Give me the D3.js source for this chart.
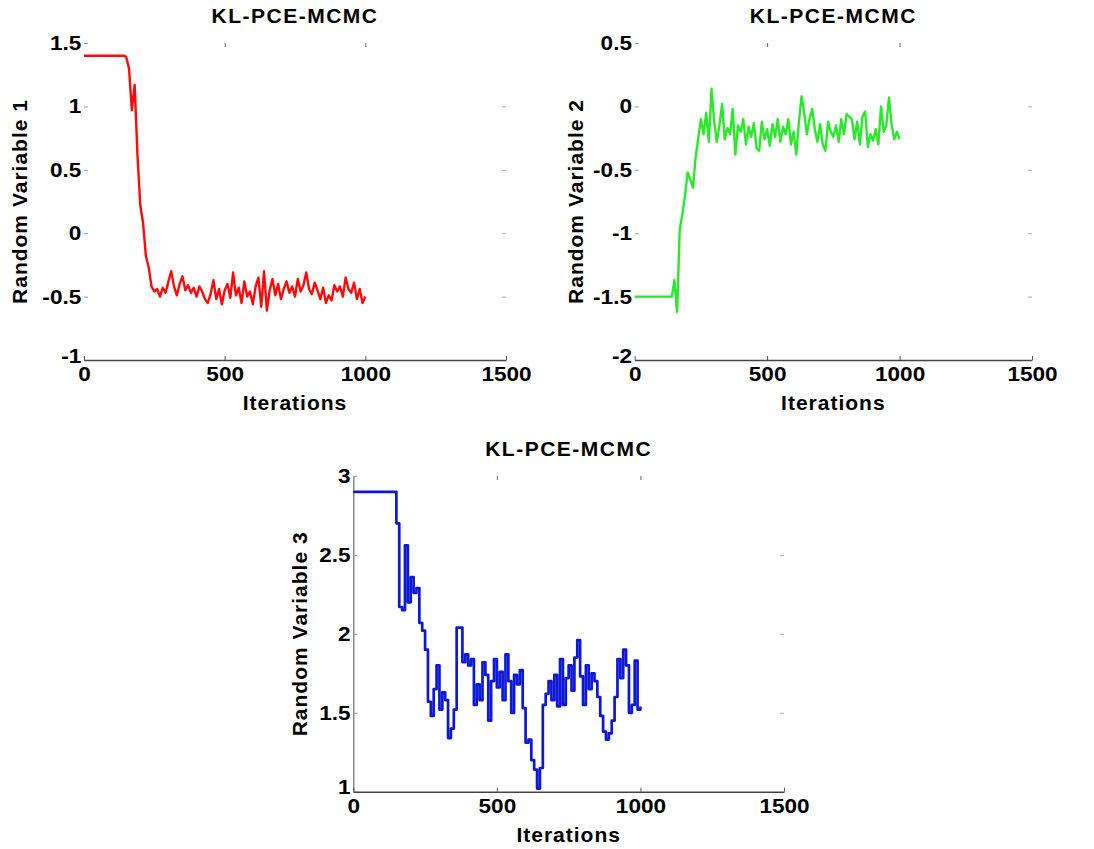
<!DOCTYPE html>
<html>
<head>
<script src="https://cdnjs.cloudflare.com/ajax/libs/d3/7.8.5/d3.min.js"></script>
<style>
    body { margin: 0; background: #fff; }
    svg text { font-family: "Liberation Sans", Arial, sans-serif; font-weight: bold; fill: #000; }
</style>
</head>
<body>
<div id="chart"></div>
<script>
    // iteration index for every sample
    const iterations = d3.range(0, 1001, 10)

    const rv1 = [1.4, 1.4, 1.4, 1.4, 1.4, 1.4, 1.4, 1.4, 1.4, 1.4, 1.4, 1.4, 1.4, 1.4, 1.4,
        1.39, 1.30, 0.97, 1.17, 0.62, 0.22, 0.08, -0.18, -0.27, -0.42, -0.46, -0.44, -0.50, -0.43, -0.47,
        -0.38, -0.30, -0.42, -0.49, -0.40, -0.34, -0.45, -0.41, -0.47, -0.43, -0.50, -0.42, -0.46, -0.52,
        -0.55, -0.48, -0.37, -0.52, -0.44, -0.56, -0.45, -0.40, -0.51, -0.31, -0.49, -0.43, -0.55, -0.38,
        -0.50, -0.46, -0.56, -0.42, -0.35, -0.58, -0.30, -0.61, -0.45, -0.36, -0.49, -0.40, -0.52, -0.44,
        -0.38, -0.47, -0.42, -0.50, -0.36, -0.46, -0.41, -0.31, -0.44, -0.48, -0.39, -0.45, -0.52, -0.43,
        -0.55, -0.49, -0.53, -0.41, -0.46, -0.42, -0.50, -0.35, -0.44, -0.47, -0.39, -0.52, -0.44, -0.55, -0.50]

    const rv2 = [-1.5, -1.5, -1.5, -1.5, -1.5, -1.5, -1.5, -1.5, -1.5, -1.5, -1.5, -1.5, -1.5, -1.5, -1.5,
        -1.37, -1.62, -0.97, -0.85, -0.70, -0.52, -0.58, -0.64, -0.40, -0.25, -0.10, -0.22, -0.05, -0.28, 0.14,
        -0.12, -0.28, -0.15, 0.02, -0.26, -0.17, -0.22, -0.02, -0.38, -0.15, -0.20, -0.10, -0.30, -0.16,
        -0.24, -0.13, -0.33, -0.35, -0.12, -0.26, -0.18, -0.31, -0.14, -0.24, -0.10, -0.28, -0.16, -0.22,
        -0.10, -0.30, -0.20, -0.38, -0.12, 0.08, -0.05, -0.22, -0.10, -0.02, -0.18, -0.28, -0.14, -0.30,
        -0.35, -0.12, -0.20, -0.24, -0.15, -0.28, -0.10, -0.22, -0.06, -0.08, -0.10, -0.26, -0.12, -0.30,
        -0.08, -0.04, -0.32, -0.22, -0.27, -0.18, -0.30, 0.00, -0.20, -0.15, 0.07, -0.14, -0.26, -0.20, -0.26]

    const rv3 = [2.9, 2.9, 2.9, 2.9, 2.9, 2.9, 2.9, 2.9, 2.9, 2.9, 2.9, 2.9, 2.9, 2.9, 2.9,
        2.70, 2.17, 2.15, 2.56, 2.20, 2.36, 2.26, 2.29, 2.07, 2.02, 1.90, 1.57, 1.48, 1.65, 1.80,
        1.52, 1.63, 1.58, 1.34, 1.40, 1.52, 2.04, 2.04, 1.82, 1.87, 1.80, 1.84, 1.55, 1.68,
        1.58, 1.82, 1.74, 1.45, 1.70, 1.84, 1.66, 1.76, 1.58, 1.87, 1.70, 1.50, 1.74, 1.68,
        1.77, 1.53, 1.31, 1.33, 1.20, 1.14, 1.02, 1.15, 1.55, 1.62, 1.70, 1.58, 1.74, 1.54,
        1.84, 1.55, 1.72, 1.80, 1.64, 1.85, 1.96, 1.73, 1.55, 1.80, 1.65, 1.75, 1.70, 1.60,
        1.48, 1.38, 1.33, 1.37, 1.45, 1.60, 1.84, 1.72, 1.90, 1.80, 1.50, 1.55, 1.83, 1.52, 1.54]

    const xTicks = [0, 500, 1000, 1500]
    const yTicks1 = [-1, -0.5, 0, 0.5, 1, 1.5]
    const yTicks2 = [-2, -1.5, -1, -0.5, 0, 0.5]
    const yTicks3 = [1, 1.5, 2, 2.5, 3]
    const titles = ["KL-PCE-MCMC", "KL-PCE-MCMC", "KL-PCE-MCMC"]
    const yLabels = ["Random Variable 1", "Random Variable 2", "Random Variable 3"]
    const xLabel = "Iterations"

    const W = 1094, H = 849

    const panels = [
        { values: rv1, yTicks: yTicks1, title: titles[0], yLabel: yLabels[0], color: "#ff0a0a",
          box: { l: 84, r: 506, t: 43, b: 360 }, labelX: 27, step: false, leftLine: false },
        { values: rv2, yTicks: yTicks2, title: titles[1], yLabel: yLabels[1], color: "#2ae82a",
          box: { l: 634.7, r: 1032, t: 43, b: 360 }, labelX: 583, step: false, leftLine: false },
        { values: rv3, yTicks: yTicks3, title: titles[2], yLabel: yLabels[2], color: "#0c18d6",
          box: { l: 353.3, r: 784, t: 476, b: 791.7 }, labelX: 307, step: true, leftLine: true }
    ]

    let svg = d3.select("#chart").append("svg")
        .attr("width", W).attr("height", H)

    function drawPanel(p) {
        let b = p.box
        let x = d3.scaleLinear().domain([0, 1500]).range([b.l, b.r])
        let y = d3.scaleLinear().domain(d3.extent(p.yTicks)).range([b.b, b.t])
        let g = svg.append("g")

        // faint box ticks (top / right)
        let top = g.append("g").attr("transform", `translate(0,${b.t})`)
            .call(d3.axisTop(x).tickValues([500, 1000]).tickSize(-4).tickFormat(""))
        top.select(".domain").remove()
        top.selectAll("line").attr("stroke", "#666")

        let right = g.append("g").attr("transform", `translate(${b.r},0)`)
            .call(d3.axisRight(y).tickValues(p.yTicks.slice(1, -1)).tickSize(-4).tickFormat(""))
        right.select(".domain").remove()
        right.selectAll("line").attr("stroke", "#aaa")

        // left axis
        let left = g.append("g").attr("transform", `translate(${b.l},0)`)
            .call(d3.axisLeft(y).tickValues(p.yTicks).tickSizeInner(-4).tickSizeOuter(0)
                .tickPadding(2.4).tickFormat(d => String(d)))
        if (p.leftLine) left.select(".domain").attr("stroke", "#777").attr("stroke-width", 1.3)
        else left.select(".domain").remove()
        left.selectAll("line").attr("stroke", "#999")
        left.selectAll("text").style("font-size", "20px").attr("transform", "scale(1.13,1)")
        // bottom-most label sits a touch higher, as in the original corner
        left.selectAll(".tick").filter(d => d === p.yTicks[0]).select("text").attr("dy", "0.1em")

        // bottom axis
        let bottom = g.append("g").attr("transform", `translate(0,${b.b})`)
            .call(d3.axisBottom(x).tickValues(xTicks).tickSizeInner(-4).tickSizeOuter(0)
                .tickPadding(7).tickFormat(d => String(d)))
        bottom.select(".domain").attr("stroke", "#444").attr("stroke-width", 1.4)
        bottom.selectAll("line").attr("stroke", "#555")
        bottom.selectAll("text").style("font-size", "20px").attr("transform", "scale(1.13,1)")

        let line = d3.line()
            .x((d, i) => x(iterations[i]))
            .y(d => y(d))
            .curve(p.step ? d3.curveStepAfter : d3.curveLinear)

        g.append("path").datum(p.values)
            .attr("d", line)
            .attr("fill", "none")
            .attr("stroke", p.color)
            .attr("stroke-width", p.step ? 2.7 : 2.4)
            .attr("stroke-linejoin", "round")

        g.append("text")
            .attr("x", (b.l + b.r) / 2).attr("y", b.t - 20)
            .attr("text-anchor", "middle")
            .style("font-size", "21px").style("letter-spacing", "1.5px")
            .text(p.title)

        g.append("text")
            .attr("x", (b.l + b.r) / 2).attr("y", b.b + 50)
            .attr("text-anchor", "middle")
            .style("font-size", "21px").style("letter-spacing", "1px")
            .text(xLabel)

        g.append("text")
            .attr("transform", `translate(${p.labelX},${(b.t + b.b) / 2}) rotate(-90)`)
            .attr("text-anchor", "middle")
            .style("font-size", "21px").style("letter-spacing", "1px")
            .text(p.yLabel)
    }

    panels.forEach(drawPanel)
</script>
</body>
</html>
